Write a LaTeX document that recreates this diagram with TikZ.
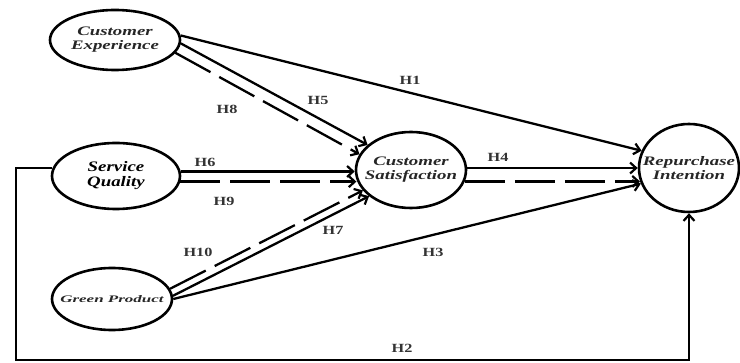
\documentclass[tikz,border=0pt]{standalone}
\usepackage{fontspec}
\setmainfont{Liberation Serif}[FakeStretch=1.3]
\newfontfamily\namefont{Liberation Serif}[FakeStretch=1.45]
\newfontfamily\widefont{Liberation Serif}[FakeStretch=1.7]
\usetikzlibrary{shapes.geometric,arrows.meta,calc}

\begin{document}
\begin{tikzpicture}[x=1pt,y=-1pt,
  latent/.style={ellipse,draw,line width=2.6pt,inner sep=0pt},
  vartext/.style={align=center,inner sep=0pt,text=black!85,
    font=\namefont\bfseries\itshape\fontsize{13}{14}\selectfont},
  link/.style={line width=2.3pt,-{Straight Barb[length=6pt,width=11pt,line width=2.2pt]}},
  dlink/.style={link,dash pattern=on 40pt off 10pt},
  hlabel/.style={inner sep=1pt,text=black!80,font=\bfseries\fontsize{12.5}{12.5}\selectfont}
]
\useasboundingbox (0,0) rectangle (740,363);

% latent constructs
\node[latent,minimum width=130pt,minimum height=60pt] (ce) at (115,40) {};
\node[latent,minimum width=128pt,minimum height=66pt] (sq) at (116,176) {};
\node[latent,minimum width=120pt,minimum height=62pt] (gp) at (112,299) {};
\node[latent,minimum width=110pt,minimum height=76pt] (cs) at (411,170) {};
\node[latent,minimum width=100pt,minimum height=88pt] (ri) at (689,168) {};

\node[vartext] (cet) at (ce) {Customer\\Experience};
\node[vartext,font=\bfseries\itshape\fontsize{14.5}{15}\selectfont,text=black] (sqt) at (sq) {Service\\Quality};
\node[vartext,font=\widefont\bfseries\itshape\fontsize{10}{11}\selectfont] (gpt) at (gp) {Green Product};
\node[vartext] (cst) at (cs) {Customer\\Satisfaction};
\node[vartext] (rit) at (ri) {Repurchase\\Intention};

% hypothesised paths
\draw[link]  (ce.4)   -- (ri.160);
\draw[link]  (ce.-3)  -- (cs.150);
\draw[dlink] (ce.-12) -- (cs.163);
\draw[link]  (sq.4)   -- (sq.4 -| cs.west);
\draw[dlink] (sq.-5)  -- (sq.-5 -| cs.190);
\draw[link]  (gp.3)   -- (cs.212);
\draw[dlink] (gp.10)  -- (cs.203);
\draw[link]  (gp.0)   -- (ri.198);
\draw[link]  (cs.2)   -- (cs.2 -| ri.west);
\draw[dlink] (cs.-12) -- (cs.-12 -| ri.195);
\coordinate (loop) at (16,360);
\draw[link] (sq.173) -| (loop) -| (ri.south);

% hypothesis labels
\node[hlabel] (l1)  at (410,80)  {H1};
\node[hlabel] (l8)  at (227,109) {H8};
\node[hlabel] (l5)  at (318,100) {H5};
\node[hlabel] (l6)  at (205,162) {H6};
\node[hlabel] (l9)  at (224,201) {H9};
\node[hlabel] (l10) at (198,252) {H10};
\node[hlabel] (l7)  at (333,230) {H7};
\node[hlabel] (l3)  at (433,252) {H3};
\node[hlabel] (l4)  at (498,157) {H4};
\node[hlabel] (l2)  at (402,348) {H2};
\end{tikzpicture}
\end{document}
